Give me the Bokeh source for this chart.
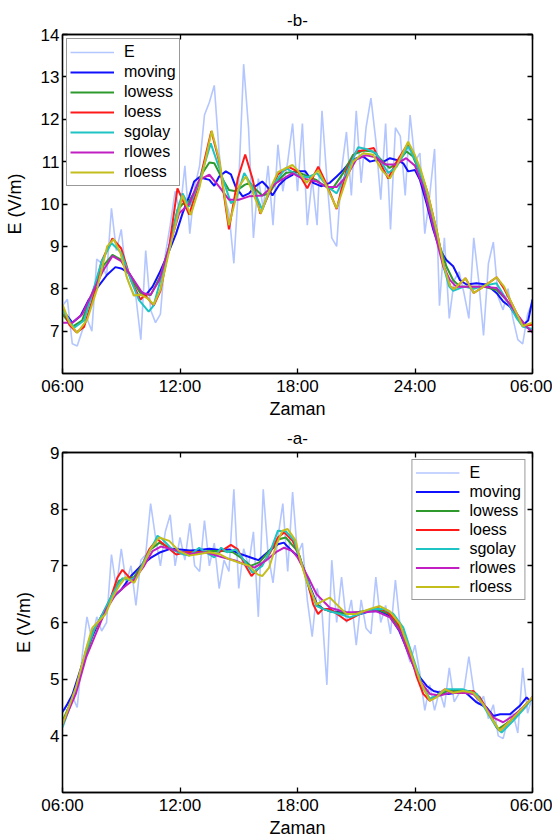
from bokeh.plotting import figure
from bokeh.layouts import column
from bokeh.models import LinearAxis, FixedTicker, Range1d
from bokeh.embed import file_html
from bokeh.resources import INLINE

FONT = "Liberation Sans"

# ---------------- data ----------------
X_TICKS = [0, 6, 12, 18, 24]
X_TICK_LABELS = ["06:00", "12:00", "18:00", "24:00", "06:00"]
SERIES_NAMES = ["E", "moving", "lowess", "loess", "sgolay", "rlowes", "rloess"]
E_TIMES = [i / 4 for i in range(97)]  # hours after 06:00, 15-min samples

# panel -b- (top)
TOP_YTICKS = [7, 8, 9, 10, 11, 12, 13, 14]
top_E = [7.6, 7.75, 6.7, 6.65, 7.0, 7.3, 7.0, 8.7, 8.6, 8.3, 9.9, 8.9, 9.4, 8.3, 8.0, 7.8,
         6.8, 8.9, 7.5, 7.2, 7.4, 8.8, 9.5, 10.3, 9.8, 10.9, 9.3, 10.4, 10.9, 12.1, 12.4, 12.8,
         11.2, 10.2, 9.8, 8.6, 10.5, 13.3, 11.8, 9.2, 10.6, 9.9, 10.9, 9.5, 11.4, 10.3, 11.0, 11.9,
         10.3, 11.9, 9.5, 10.6, 9.5, 12.2, 10.6, 9.2, 9.0, 10.8, 11.7, 10.2, 12.2, 10.5, 11.8, 12.5,
         11.5, 10.1, 11.9, 9.4, 11.8, 11.6, 10.2, 12.1, 11.0, 11.2, 9.3, 10.2, 11.3, 7.6, 9.2, 7.3,
         8.2, 8.4, 7.9, 7.3, 9.2, 8.2, 6.9, 8.6, 9.1, 7.8, 7.5, 8.0, 7.3, 6.8, 6.7, 7.4, 7.7]
top_moving = [(0, 7.5), (0.5, 7.2), (0.92, 7.36), (1.34, 7.74), (1.77, 8.02), (2.28, 8.33), (2.7, 8.51),
              (3.0, 8.48), (3.4, 8.37), (3.9, 7.97), (4.25, 7.85), (4.6, 8.05), (4.95, 8.37), (5.45, 8.9),
              (5.8, 9.3), (6.13, 9.78), (6.47, 10.18), (6.72, 10.53), (6.98, 10.63), (7.5, 10.57),
              (7.75, 10.43), (8.0, 10.65), (8.34, 10.77), (8.6, 10.7), (8.85, 10.4), (9.2, 10.18),
              (9.53, 10.25), (9.8, 10.4), (10.2, 10.53), (10.47, 10.4), (10.72, 10.2), (11.06, 10.45),
              (11.4, 10.6), (11.75, 10.69), (12.0, 10.77), (12.4, 10.77), (12.8, 10.5), (13.2, 10.42),
              (13.65, 10.5), (14.0, 10.65), (14.33, 10.8), (14.67, 10.98), (15.0, 11.08), (15.35, 11.12),
              (15.7, 11.0), (16.04, 11.04), (16.4, 11.0), (16.72, 11.08), (17.06, 11.04), (17.4, 10.96),
              (17.65, 10.77), (18.0, 10.8), (18.25, 10.57), (18.6, 10.0), (18.93, 9.4), (19.27, 8.92),
              (19.6, 8.68), (19.95, 8.53), (20.3, 8.2), (20.63, 8.1), (21.14, 8.13), (21.65, 8.1),
              (22.16, 7.9), (22.5, 7.7), (22.84, 7.58), (23.18, 7.35), (23.52, 7.15), (23.78, 7.25),
              (24.0, 7.75)]
top_lowess = [(0, 7.4), (0.5, 7.1), (1.0, 7.25), (1.6, 8.0), (2.1, 8.55), (2.55, 8.8), (3.0, 8.68),
              (3.5, 8.25), (4.0, 7.88), (4.5, 7.85), (5.0, 8.3), (5.45, 9.0), (5.87, 9.86), (6.13, 10.0),
              (6.4, 10.02), (6.8, 10.33), (7.15, 10.73), (7.5, 10.98), (7.75, 10.96), (8.1, 10.65),
              (8.5, 10.33), (8.85, 10.3), (9.3, 10.45), (9.55, 10.5), (9.9, 10.33), (10.2, 10.2),
              (10.55, 10.25), (10.9, 10.5), (11.4, 10.73), (11.9, 10.77), (12.3, 10.7), (12.95, 10.57),
              (13.3, 10.45), (13.8, 10.37), (14.33, 10.73), (14.84, 11.16), (15.35, 11.26), (15.86, 11.24),
              (16.37, 11.0), (16.7, 10.85), (17.06, 10.96), (17.57, 11.24), (17.9, 11.12), (18.25, 10.73),
              (18.6, 10.25), (18.93, 9.63), (19.27, 9.0), (19.6, 8.53), (19.95, 8.2), (20.3, 8.05),
              (20.8, 8.05), (21.5, 8.05), (22.16, 7.97), (22.67, 7.74), (23.18, 7.38), (23.7, 7.1),
              (24.0, 7.0)]
top_loess = [(0, 7.55), (0.35, 7.15), (0.72, 6.97), (1.1, 7.1), (1.5, 7.7), (2.0, 8.65), (2.55, 9.19),
             (3.0, 8.95), (3.5, 8.2), (3.98, 7.74), (4.2, 7.86), (4.66, 7.6), (5.0, 7.95), (5.45, 9.0),
             (5.87, 10.37), (6.47, 9.75), (7.0, 10.55), (7.6, 11.72), (8.0, 11.0), (8.5, 9.4),
             (8.95, 10.6), (9.33, 11.17), (9.7, 10.6), (10.1, 9.77), (10.5, 10.2), (11.0, 10.7),
             (11.57, 10.87), (12.0, 10.77), (12.5, 10.37), (13.06, 10.88), (13.5, 10.45), (14.0, 9.88),
             (14.5, 10.8), (15.0, 11.24), (15.5, 11.28), (15.9, 11.32), (16.3, 10.9), (16.63, 10.6),
             (17.0, 10.95), (17.65, 11.43), (18.0, 11.1), (18.3, 10.75), (18.62, 10.3), (19.13, 9.33),
             (19.47, 8.53), (19.8, 8.06), (20.0, 7.99), (20.58, 8.25), (21.0, 7.9), (21.5, 8.05),
             (22.17, 8.27), (22.55, 8.0), (23.0, 7.6), (23.5, 7.12), (24.0, 7.15)]
top_sgolay = [(0, 7.5), (0.6, 7.08), (1.1, 7.25), (1.5, 7.85), (2.0, 8.65), (2.5, 9.08), (3.0, 8.85),
              (3.5, 8.2), (3.9, 7.74), (4.4, 7.46), (4.65, 7.6), (5.1, 8.37), (5.5, 9.0), (5.87, 9.86),
              (6.13, 10.25), (6.47, 9.94), (7.0, 10.55), (7.57, 11.43), (8.0, 10.85), (8.6, 10.02),
              (8.85, 10.1), (9.28, 10.73), (9.7, 10.4), (10.2, 9.86), (10.6, 10.35), (11.4, 10.85),
              (12.0, 10.68), (12.5, 10.63), (13.0, 10.73), (13.5, 10.42), (14.0, 10.25), (14.5, 10.73),
              (15.1, 11.34), (15.5, 11.3), (16.0, 11.2), (16.63, 10.73), (17.06, 10.88), (17.65, 11.37),
              (18.0, 11.05), (18.3, 10.7), (18.62, 10.25), (19.13, 9.3), (19.47, 8.5), (19.75, 8.05),
              (19.95, 7.95), (20.5, 8.05), (21.0, 8.0), (21.6, 8.08), (22.16, 8.13), (22.67, 7.74),
              (23.2, 7.3), (23.52, 7.1), (24.0, 7.05)]
top_rlowes = [(0, 7.2), (0.5, 7.2), (1.0, 7.39), (1.6, 7.98), (2.1, 8.45), (2.55, 8.77), (3.0, 8.65),
              (3.4, 8.37), (4.08, 7.9), (4.5, 7.86), (4.94, 8.2), (5.45, 9.0), (5.96, 9.78), (6.47, 10.0),
              (6.98, 10.57), (7.5, 10.69), (8.0, 10.41), (8.5, 10.1), (9.0, 10.1), (9.53, 10.18),
              (10.2, 10.2), (10.9, 10.49), (11.74, 10.73), (12.25, 10.6), (12.5, 10.58), (13.0, 10.53),
              (13.5, 10.4), (14.0, 10.4), (14.5, 10.65), (15.0, 11.05), (15.5, 11.15), (16.0, 11.1),
              (16.5, 10.93), (17.0, 10.93), (17.55, 11.08), (18.0, 10.9), (18.42, 10.41), (18.76, 9.78),
              (19.1, 9.15), (19.44, 8.53), (19.78, 8.21), (20.1, 8.05), (20.8, 8.05), (21.5, 8.05),
              (22.16, 8.02), (22.67, 7.74), (23.18, 7.42), (23.7, 7.1), (24.0, 6.97)]
top_rloess = [(0, 7.63), (0.35, 7.2), (0.75, 6.96), (1.26, 7.27), (1.77, 8.0), (2.28, 9.0), (2.62, 9.17),
              (2.96, 8.84), (3.3, 8.25), (3.64, 7.84), (3.98, 7.86), (4.32, 7.78), (4.66, 7.63), (5.0, 7.98),
              (5.5, 9.0), (6.13, 10.2), (6.55, 9.74), (7.0, 10.4), (7.62, 11.73), (8.0, 11.05), (8.5, 9.5),
              (9.0, 10.4), (9.36, 10.65), (9.7, 10.3), (10.13, 9.78), (10.5, 10.25), (11.0, 10.75),
              (11.74, 10.92), (12.0, 10.8), (12.46, 10.5), (13.06, 10.8), (13.5, 10.4), (14.0, 9.9),
              (14.5, 10.6), (14.84, 11.0), (15.35, 11.2), (15.86, 11.16), (16.3, 10.8), (16.72, 10.6),
              (17.06, 10.9), (17.65, 11.47), (18.0, 11.15), (18.3, 10.8), (18.62, 10.3), (19.13, 9.33),
              (19.47, 8.53), (19.8, 8.06), (19.98, 7.99), (20.58, 8.25), (21.0, 7.9), (21.5, 8.05),
              (22.17, 8.27), (22.55, 8.05), (23.0, 7.6), (23.5, 7.12), (24.0, 7.2)]

# panel -a- (bottom)
BOT_YTICKS = [4, 5, 6, 7, 8, 9]
bot_E = [4.5, 4.45, 4.7, 4.5, 5.4, 6.1, 5.7, 6.1, 5.85, 6.0, 7.2, 6.6, 7.3, 6.7, 7.0, 6.3,
         7.1, 7.2, 8.1, 7.5, 7.0, 7.6, 7.9, 7.0, 7.5, 7.1, 7.75, 7.0, 6.9, 7.8, 7.0, 7.4,
         6.6, 7.1, 6.9, 8.35, 6.6, 7.3, 7.0, 7.6, 6.1, 8.35, 7.2, 6.7, 7.5, 8.1, 6.9, 8.3,
         7.2, 7.4, 6.4, 5.75, 6.6, 6.2, 4.9, 7.1, 6.0, 6.8, 6.0, 6.4, 5.6, 6.4, 5.9, 5.8,
         6.8, 6.0, 6.3, 5.8, 6.75, 5.9, 5.6, 5.3, 5.6, 5.1, 4.45, 4.9, 4.45, 4.8, 4.5, 5.2,
         4.6, 4.75, 4.8, 5.4, 4.8, 4.55, 4.7, 4.3, 4.55, 4.0, 3.95, 4.3, 4.4, 4.05, 5.2, 4.4, 4.7]
bot_moving = [(0, 4.42), (0.25, 4.56), (0.5, 4.72), (1.0, 5.26), (1.5, 5.74), (2.0, 6.12), (2.5, 6.42),
              (3.0, 6.58), (3.5, 6.82), (4.0, 7.0), (4.5, 7.14), (5.0, 7.24), (5.5, 7.3), (6.0, 7.29),
              (6.5, 7.27), (7.0, 7.28), (7.5, 7.3), (8.0, 7.28), (8.5, 7.29), (9.0, 7.22), (9.5, 7.16),
              (10.0, 7.1), (10.5, 7.25), (11.0, 7.38), (11.3, 7.41), (11.75, 7.25), (12.0, 7.18),
              (12.3, 6.97), (12.65, 6.62), (13.0, 6.32), (13.3, 6.24), (13.65, 6.2), (14.2, 6.18),
              (14.7, 6.16), (15.2, 6.15), (15.7, 6.2), (16.2, 6.2), (16.7, 6.12), (17.2, 5.85),
              (17.55, 5.56), (17.9, 5.26), (18.25, 5.03), (18.6, 4.88), (18.95, 4.79), (19.3, 4.76),
              (19.7, 4.74), (20.1, 4.76), (20.6, 4.76), (21.15, 4.59), (21.65, 4.5), (22.0, 4.35),
              (22.35, 4.38), (22.85, 4.38), (23.35, 4.53), (23.7, 4.68), (23.85, 4.62), (24.0, 4.65)]
bot_lowess = [(0, 4.26), (0.68, 4.79), (1.2, 5.44), (1.6, 5.85), (2.05, 6.15), (2.47, 6.44), (2.9, 6.74),
              (3.3, 6.79), (3.65, 6.8), (4.1, 7.03), (4.5, 7.29), (4.95, 7.41), (5.45, 7.32), (5.95, 7.24),
              (6.8, 7.24), (7.65, 7.26), (8.2, 7.26), (8.7, 7.24), (9.2, 7.12), (9.6, 7.0), (10.05, 7.06),
              (10.55, 7.26), (11.05, 7.47), (11.4, 7.5), (11.9, 7.3), (12.1, 7.18), (12.63, 6.56),
              (12.97, 6.32), (13.3, 6.24), (13.65, 6.2), (14.5, 6.15), (15.35, 6.2), (16.0, 6.24),
              (16.7, 6.15), (17.2, 5.91), (17.7, 5.44), (18.25, 4.97), (18.75, 4.65), (19.25, 4.72),
              (19.6, 4.79), (20.1, 4.79), (20.8, 4.79), (21.3, 4.68), (21.8, 4.38), (22.25, 4.12),
              (22.85, 4.26), (23.5, 4.47), (24.0, 4.68)]
bot_loess = [(0, 4.2), (0.68, 4.8), (1.2, 5.5), (1.53, 5.85), (1.7, 5.91), (2.05, 6.09), (2.47, 6.44),
             (2.8, 6.79), (3.06, 6.93), (3.4, 6.8), (3.66, 6.72), (4.08, 7.03), (4.43, 7.29), (4.85, 7.47),
             (5.28, 7.35), (5.8, 7.2), (6.3, 7.24), (7.3, 7.24), (7.8, 7.2), (8.25, 7.29), (8.6, 7.37),
             (8.95, 7.29), (9.3, 7.03), (9.65, 6.82), (10.05, 6.97), (10.55, 7.2), (11.0, 7.5),
             (11.32, 7.59), (11.75, 7.44), (12.0, 7.26), (12.46, 6.8), (12.8, 6.32), (13.05, 6.15),
             (13.3, 6.24), (13.65, 6.24), (14.15, 6.12), (14.5, 6.03), (14.85, 6.09), (15.35, 6.18),
             (16.05, 6.26), (16.55, 6.2), (17.05, 6.03), (17.4, 5.82), (17.75, 5.44), (18.1, 5.03),
             (18.42, 4.74), (18.76, 4.62), (19.1, 4.71), (19.52, 4.82), (19.95, 4.76), (20.5, 4.76),
             (20.97, 4.79), (21.3, 4.68), (21.82, 4.38), (22.16, 4.15), (22.33, 4.09), (22.85, 4.26),
             (23.35, 4.44), (24.0, 4.68)]
bot_sgolay = [(0, 4.15), (0.68, 4.8), (1.2, 5.5), (1.62, 5.88), (2.05, 6.15), (2.47, 6.44), (2.8, 6.65),
              (3.06, 6.78), (3.4, 6.75), (3.8, 6.8), (4.17, 7.09), (4.6, 7.35), (4.85, 7.53), (5.1, 7.47),
              (5.6, 7.29), (6.1, 7.21), (6.47, 7.18), (6.98, 7.32), (7.3, 7.24), (7.75, 7.15), (8.1, 7.32),
              (8.4, 7.24), (8.85, 7.29), (9.28, 7.09), (9.7, 6.88), (10.2, 7.0), (10.65, 7.29), (11.0, 7.62),
              (11.4, 7.61), (11.83, 7.45), (12.0, 7.26), (12.63, 6.62), (12.97, 6.29), (13.3, 6.24),
              (13.65, 6.2), (14.15, 6.15), (14.67, 6.09), (15.18, 6.15), (15.9, 6.24), (16.4, 6.24),
              (16.9, 6.15), (17.4, 5.91), (17.9, 5.38), (18.4, 4.85), (18.76, 4.65), (19.6, 4.82),
              (20.46, 4.82), (21.15, 4.74), (21.65, 4.44), (22.16, 4.15), (22.42, 4.06), (23.0, 4.26),
              (23.7, 4.53), (24.0, 4.68)]
bot_rlowes = [(0, 4.2), (0.68, 4.74), (1.2, 5.38), (1.7, 5.8), (2.2, 6.21), (2.72, 6.5), (3.23, 6.65),
              (3.66, 6.76), (4.17, 7.0), (4.6, 7.26), (5.02, 7.34), (5.6, 7.29), (6.47, 7.21), (7.3, 7.24),
              (8.17, 7.15), (8.85, 7.09), (9.45, 7.0), (9.8, 6.97), (10.38, 7.09), (10.9, 7.24),
              (11.32, 7.32), (11.75, 7.26), (12.0, 7.15), (12.63, 6.74), (12.97, 6.5), (13.65, 6.26),
              (14.5, 6.18), (15.35, 6.18), (16.0, 6.2), (16.72, 6.09), (17.23, 5.85), (17.74, 5.38),
              (18.25, 4.97), (18.76, 4.74), (19.27, 4.71), (19.78, 4.76), (20.46, 4.76), (20.97, 4.74),
              (21.48, 4.56), (22.0, 4.32), (22.5, 4.24), (23.0, 4.35), (23.52, 4.5), (24.0, 4.68)]
bot_rloess = [(0, 4.2), (0.68, 4.85), (1.2, 5.53), (1.53, 5.91), (1.87, 6.03), (2.2, 6.15), (2.55, 6.44),
              (2.9, 6.65), (3.23, 6.8), (3.66, 6.7), (4.1, 7.0), (4.5, 7.3), (4.94, 7.5), (5.45, 7.44),
              (5.96, 7.26), (6.47, 7.18), (6.98, 7.21), (7.5, 7.24), (8.0, 7.21), (8.5, 7.12), (9.0, 7.06),
              (9.53, 7.0), (9.96, 6.85), (10.2, 6.82), (10.55, 6.97), (10.9, 7.35), (11.23, 7.62),
              (11.5, 7.65), (11.9, 7.45), (12.1, 7.15), (12.46, 6.74), (12.97, 6.32), (13.3, 6.38),
              (13.65, 6.44), (14.0, 6.32), (14.5, 6.15), (15.0, 6.15), (15.7, 6.24), (16.2, 6.29),
              (16.7, 6.2), (17.23, 5.97), (17.74, 5.5), (18.25, 4.97), (18.76, 4.62), (19.1, 4.68),
              (19.52, 4.82), (19.95, 4.76), (20.46, 4.79), (20.97, 4.76), (21.48, 4.56), (22.0, 4.26),
              (22.33, 4.09), (22.85, 4.26), (23.35, 4.44), (24.0, 4.68)]

# ---------------- style ----------------
COLORS = {"E": "#b3c6ff", "moving": "#1010ff", "lowess": "#2e9a2e", "loess": "#ff1a1a",
          "sgolay": "#1ec3c3", "rlowes": "#c21fc2", "rloess": "#c4be1c"}


def style_axis(ax, show_labels=True):
    ax.major_tick_in = 5
    ax.major_tick_out = 0
    ax.minor_tick_in = 0
    ax.minor_tick_out = 0
    ax.axis_line_color = "black"
    ax.axis_line_width = 1.3
    ax.major_tick_line_color = "black"
    ax.major_tick_line_width = 1.3
    if show_labels:
        ax.major_label_text_font = FONT
        ax.major_label_text_font_size = "17px"
        ax.major_label_text_color = "black"
        ax.major_label_standoff = 3
    else:
        ax.major_label_text_font_size = "1px"
        ax.major_label_text_alpha = 0
        ax.major_label_text_color = None
        ax.major_label_standoff = 0


def make_panel(title, ylo, yhi, yticks, e_vals, smooth, legend_loc, frame_h, border_top,
               border_bottom, title_standoff):
    p = figure(frame_width=470, frame_height=frame_h, output_backend="svg", toolbar_location=None,
               x_range=Range1d(0, 24), y_range=Range1d(ylo, yhi),
               min_border_left=62, min_border_right=20,
               min_border_top=border_top, min_border_bottom=border_bottom)
    p.title.text = title
    p.title.align = "center"
    p.title.text_font = FONT
    p.title.text_font_size = "17px"
    p.title.text_font_style = "normal"
    p.title.text_color = "black"
    p.title.standoff = title_standoff
    p.grid.visible = False
    p.outline_line_color = "black"
    p.outline_line_width = 1.3
    p.background_fill_color = "white"
    p.border_fill_color = "white"

    p.xaxis.ticker = FixedTicker(ticks=X_TICKS)
    p.xaxis.major_label_overrides = {t: l for t, l in zip(X_TICKS, X_TICK_LABELS)}
    p.yaxis.ticker = FixedTicker(ticks=yticks)
    style_axis(p.xaxis[0])
    style_axis(p.yaxis[0])
    p.xaxis.axis_label = "Zaman"
    p.yaxis.axis_label = "E (V/m)"
    for ax in (p.xaxis[0], p.yaxis[0]):
        ax.axis_label_text_font = FONT
        ax.axis_label_text_font_size = "18px"
        ax.axis_label_text_font_style = "normal"
        ax.axis_label_text_color = "black"
    p.xaxis.axis_label_standoff = 0
    p.yaxis.axis_label_standoff = 13

    right = LinearAxis(ticker=FixedTicker(ticks=yticks))
    style_axis(right, show_labels=False)
    p.add_layout(right, "right")
    top = LinearAxis(ticker=FixedTicker(ticks=X_TICKS))
    style_axis(top, show_labels=False)
    p.add_layout(top, "above")

    p.line(E_TIMES, e_vals, color=COLORS["E"], line_width=1.6, legend_label="E")
    for name in SERIES_NAMES[1:]:
        pts = smooth[name]
        p.line([a for a, b in pts], [b for a, b in pts], color=COLORS[name], line_width=2,
               legend_label=name)

    lg = p.legend[0]
    lg.location = legend_loc
    lg.margin = 4 if legend_loc == "top_left" else 7
    lg.padding = 3
    lg.spacing = 0
    lg.glyph_width = 44
    lg.glyph_height = 20 if legend_loc == "top_left" else 19
    lg.label_height = 20 if legend_loc == "top_left" else 19
    lg.label_standoff = 10
    lg.label_text_font = FONT
    lg.label_text_font_size = "16px"
    lg.label_text_color = "black"
    lg.border_line_color = "#333333"
    lg.border_line_width = 1
    lg.background_fill_alpha = 1.0
    return p


top_smooth = {"moving": top_moving, "lowess": top_lowess, "loess": top_loess,
              "sgolay": top_sgolay, "rlowes": top_rlowes, "rloess": top_rloess}
bot_smooth = {"moving": bot_moving, "lowess": bot_lowess, "loess": bot_loess,
              "sgolay": bot_sgolay, "rlowes": bot_rlowes, "rloess": bot_rloess}

p_top = make_panel("-b-", 6, 14, TOP_YTICKS, top_E, top_smooth, "top_left", 339, 34, 45, 10)
p_bot = make_panel("-a-", 3, 9, BOT_YTICKS, bot_E, bot_smooth, "top_right", 340, 30, 46, 10)

layout = column(p_top, p_bot, spacing=0)
open("out.html", "w").write(file_html(layout, INLINE))
